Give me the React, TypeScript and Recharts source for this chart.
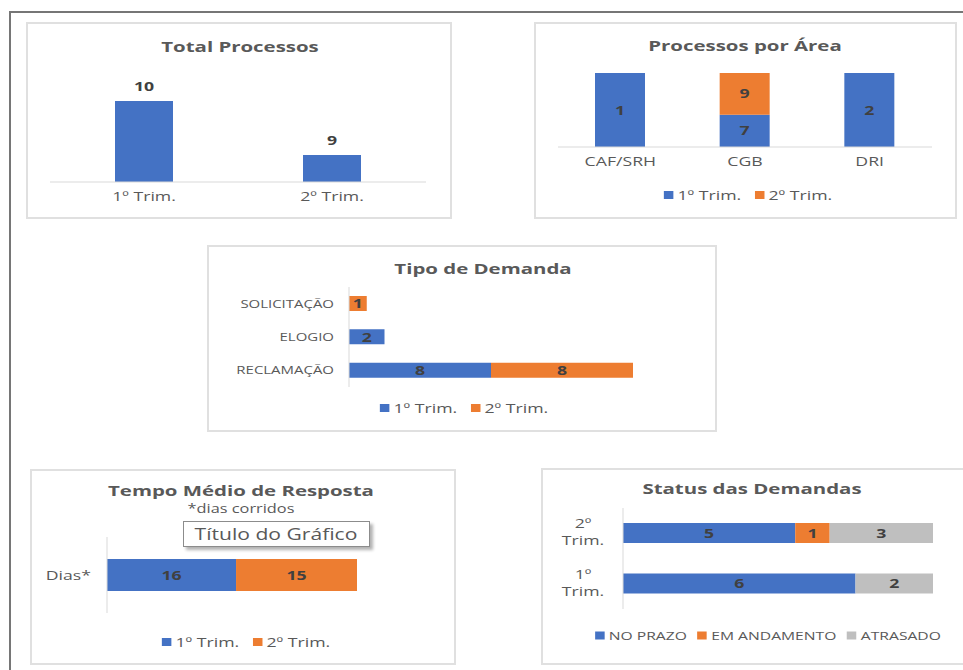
import React from "react";
import { Bar, BarChart, LabelList, XAxis, YAxis } from "recharts";

const BLUE = "#4472c4";
const ORANGE = "#ed7d31";
const GRAY = "#bfbfbf";
const TEXT = "#595959";
const LABEL = "#404040";
const FONT = "'Open Sans', 'Noto Sans', sans-serif";
// the source screenshot is stretched sideways, so text is widened to match
const S = 1.36;

// Total Processos
const totalCategories = ["1º Trim.", "2º Trim."];
const totalValues = [10, 9];

// Processos por Área
const areaCategories = ["CAF/SRH", "CGB", "DRI"];
const areaTrim1 = [1, 7, 2];
const areaTrim2 = [null, 9, null];

// Tipo de Demanda (top to bottom)
const demandCategories = ["SOLICITAÇÃO", "ELOGIO", "RECLAMAÇÃO"];
const demandTrim1 = [null, 2, 8];
const demandTrim2 = [1, null, 8];

// Tempo Médio de Resposta
const tempoCategories = ["Dias*"];
const tempoTrim1 = [16];
const tempoTrim2 = [15];

// Status das Demandas (top to bottom)
const statusCategories = ["2º Trim.", "1º Trim."];
const statusNoPrazo = [5, 6];
const statusAndamento = [1, null];
const statusAtrasado = [3, 2];

const trimLegend = ["1º Trim.", "2º Trim."];
const statusLegend = ["NO PRAZO", "EM ANDAMENTO", "ATRASADO"];

const totalData = totalCategories.map((name, i) => ({ name, v: totalValues[i] }));
const areaData = areaCategories.map((name, i) => ({ name, t1: areaTrim1[i], t2: areaTrim2[i] }));
const demandData = demandCategories.map((name, i) => ({ name, t1: demandTrim1[i], t2: demandTrim2[i] }));
const tempoData = tempoCategories.map((name, i) => ({ name, t1: tempoTrim1[i], t2: tempoTrim2[i] }));
const statusData = statusCategories.map((name, i) => ({
  name,
  a: statusNoPrazo[i],
  b: statusAndamento[i],
  c: statusAtrasado[i],
}));

function Panel({ x, y, w, h }: { x: number; y: number; w: number; h: number }) {
  return (
    <div
      style={{
        position: "absolute",
        left: x,
        top: y,
        width: w,
        height: h,
        border: "2px solid #e0e0e0",
        boxSizing: "border-box",
      }}
    />
  );
}

function Txt({ cx, cy, size, bold, children, style }: any) {
  return (
    <div
      style={{
        position: "absolute",
        left: cx,
        top: cy,
        transform: `translate(-50%, -50%) scaleX(${S})`,
        whiteSpace: "nowrap",
        fontSize: size,
        fontWeight: bold ? 700 : 400,
        color: TEXT,
        ...style,
      }}
    >
      {children}
    </div>
  );
}

function LegendRow({ cx, cy, items, colors, size = 13, gap = 10 }: any) {
  return (
    <Txt cx={cx} cy={cy} size={size}>
      <div style={{ display: "flex", alignItems: "center", gap }}>
        {items.map((it: string, i: number) => (
          <div key={it} style={{ display: "flex", alignItems: "center", gap: 3 }}>
            <span style={{ width: 7, height: 8, background: colors[i], display: "inline-block" }} />
            <span>{it}</span>
          </div>
        ))}
      </div>
    </Txt>
  );
}

function STxt({ x, y, anchor, size, bold, fill, dy, children }: any) {
  return (
    <g transform={`translate(${x},${y}) scale(${S},1)`}>
      <text
        x={0}
        y={0}
        dy={dy}
        textAnchor={anchor}
        fill={fill}
        fontSize={size}
        fontWeight={bold ? 700 : 400}
        fontFamily={FONT}
      >
        {children}
      </text>
    </g>
  );
}

function BottomTick({ x, y, payload }: any) {
  return (
    <STxt x={x} y={y} anchor="middle" size={13} fill={TEXT} dy="0.71em">
      {payload.value}
    </STxt>
  );
}

function LeftTick({ x, y, payload, size }: any) {
  return (
    <STxt x={x} y={y} anchor="end" size={size} fill={TEXT} dy="0.36em">
      {payload.value}
    </STxt>
  );
}

function StatusTick({ x, y, payload }: any) {
  const [a, b] = String(payload.value).split(" ");
  const cx = x - 32;
  return (
    <g>
      <STxt x={cx} y={y - 5} anchor="middle" size={13} fill={TEXT}>{a}</STxt>
      <STxt x={cx} y={y + 12} anchor="middle" size={13} fill={TEXT}>{b}</STxt>
    </g>
  );
}

function renderLabel(pos: "center" | "top", size = 13) {
  return (props: any) => {
    const { value } = props;
    if (value === null || value === undefined) return null;
    const vb = props.viewBox || props;
    const cx = vb.x + vb.width / 2;
    const cy = pos === "center" ? vb.y + vb.height / 2 : vb.y - 15;
    return (
      <STxt x={cx} y={cy} anchor="middle" size={size} bold fill={LABEL} dy="0.36em">
        {value}
      </STxt>
    );
  };
}

function Box({ x, y, children }: any) {
  return <div style={{ position: "absolute", left: x, top: y }}>{children}</div>;
}

export default function App() {
  return (
    <div
      style={{
        position: "absolute",
        left: 0,
        top: 0,
        width: 963,
        height: 670,
        overflow: "hidden",
        background: "#fff",
        fontFamily: FONT,
      }}
    >
      <div
        style={{
          position: "absolute",
          left: 9,
          top: 11,
          width: 980,
          height: 700,
          borderLeft: "2px solid #767676",
          borderTop: "2px solid #767676",
        }}
      />

      {/* Total Processos */}
      <Panel x={26} y={22} w={426} h={197} />
      <Txt cx={240} cy={46} size={15} bold>Total Processos</Txt>
      <Box x={26} y={22}>
        <BarChart width={426} height={197} data={totalData} margin={{ top: 52, right: 26, bottom: 7, left: 24 }}>
          <XAxis
            dataKey="name"
            height={30}
            tickLine={false}
            axisLine={{ stroke: "#d9d9d9" }}
            tick={<BottomTick />}
            tickMargin={4}
          />
          <YAxis hide domain={[8.5, 10.5]} />
          <Bar dataKey="v" fill={BLUE} barSize={58} isAnimationActive={false}>
            <LabelList dataKey="v" content={renderLabel("top")} />
          </Bar>
        </BarChart>
      </Box>

      {/* Processos por Área */}
      <Panel x={534} y={22} w={423} h={197} />
      <Txt cx={745} cy={45} size={15} bold>Processos por Área</Txt>
      <Box x={534} y={22}>
        <BarChart
          width={423}
          height={197}
          data={areaData}
          stackOffset="expand"
          margin={{ top: 51, right: 25, bottom: 42, left: 24 }}
        >
          <XAxis
            dataKey="name"
            height={30}
            tickLine={false}
            axisLine={{ stroke: "#d9d9d9" }}
            tick={<BottomTick />}
            tickMargin={4}
          />
          <YAxis hide domain={[0, 1]} />
          <Bar dataKey="t1" stackId="s" fill={BLUE} barSize={50} isAnimationActive={false}>
            <LabelList dataKey="t1" content={renderLabel("center")} />
          </Bar>
          <Bar dataKey="t2" stackId="s" fill={ORANGE} barSize={50} isAnimationActive={false}>
            <LabelList dataKey="t2" content={renderLabel("center")} />
          </Bar>
        </BarChart>
      </Box>
      <LegendRow cx={748} cy={195} items={trimLegend} colors={[BLUE, ORANGE]} />

      {/* Tipo de Demanda */}
      <Panel x={207} y={245} w={510} h={187} />
      <Txt cx={483} cy={268} size={15} bold>Tipo de Demanda</Txt>
      <Box x={207} y={245}>
        <BarChart
          width={510}
          height={187}
          data={demandData}
          layout="vertical"
          margin={{ top: 42, right: 84, bottom: 45, left: 12 }}
        >
          <XAxis type="number" hide domain={[0, 16]} />
          <YAxis
            type="category"
            dataKey="name"
            width={130}
            tickLine={false}
            axisLine={{ stroke: "#d9d9d9" }}
            tick={<LeftTick size={11} />}
            tickMargin={9}
          />
          <Bar dataKey="t1" stackId="s" fill={BLUE} barSize={15} isAnimationActive={false}>
            <LabelList dataKey="t1" content={renderLabel("center")} />
          </Bar>
          <Bar dataKey="t2" stackId="s" fill={ORANGE} barSize={15} isAnimationActive={false}>
            <LabelList dataKey="t2" content={renderLabel("center")} />
          </Bar>
        </BarChart>
      </Box>
      <LegendRow cx={464} cy={408} items={trimLegend} colors={[BLUE, ORANGE]} />

      {/* Tempo Médio de Resposta */}
      <Panel x={30} y={469} w={426} h={196} />
      <Txt cx={241} cy={490} size={15} bold>Tempo Médio de Resposta</Txt>
      <Txt cx={241} cy={508} size={12}>*dias corridos</Txt>
      <Box x={30} y={469}>
        <BarChart
          width={426}
          height={196}
          data={tempoData}
          layout="vertical"
          margin={{ top: 68, right: 99, bottom: 52, left: 7 }}
        >
          <XAxis type="number" hide domain={[0, 31]} />
          <YAxis
            type="category"
            dataKey="name"
            width={70}
            tickLine={false}
            axisLine={{ stroke: "#d9d9d9" }}
            tick={<LeftTick size={13} />}
            tickMargin={10}
          />
          <Bar dataKey="t1" stackId="s" fill={BLUE} barSize={32} isAnimationActive={false}>
            <LabelList dataKey="t1" content={renderLabel("center")} />
          </Bar>
          <Bar dataKey="t2" stackId="s" fill={ORANGE} barSize={32} isAnimationActive={false}>
            <LabelList dataKey="t2" content={renderLabel("center")} />
          </Bar>
        </BarChart>
      </Box>
      <div
        style={{
          position: "absolute",
          left: 183,
          top: 521,
          width: 187,
          height: 26,
          border: "1px solid #8c8c8c",
          boxSizing: "border-box",
          background: "#fff",
          boxShadow: "3px 3px 3px rgba(0,0,0,0.3)",
        }}
      />
      <Txt cx={276} cy={534} size={15.5}>Título do Gráfico</Txt>
      <LegendRow cx={246} cy={642} items={trimLegend} colors={[BLUE, ORANGE]} />

      {/* Status das Demandas */}
      <Panel x={541} y={468} w={430} h={197} />
      <Txt cx={752} cy={488} size={15} bold>Status das Demandas</Txt>
      <Box x={541} y={468}>
        <BarChart
          width={424}
          height={197}
          data={statusData}
          layout="vertical"
          stackOffset="expand"
          margin={{ top: 40, right: 32, bottom: 56, left: 12 }}
        >
          <XAxis type="number" hide domain={[0, 1]} />
          <YAxis
            type="category"
            dataKey="name"
            width={70}
            tickLine={false}
            axisLine={{ stroke: "#d9d9d9" }}
            tick={<StatusTick />}
          />
          <Bar dataKey="a" stackId="s" fill={BLUE} barSize={20} isAnimationActive={false}>
            <LabelList dataKey="a" content={renderLabel("center")} />
          </Bar>
          <Bar dataKey="b" stackId="s" fill={ORANGE} barSize={20} isAnimationActive={false}>
            <LabelList dataKey="b" content={renderLabel("center")} />
          </Bar>
          <Bar dataKey="c" stackId="s" fill={GRAY} barSize={20} isAnimationActive={false}>
            <LabelList dataKey="c" content={renderLabel("center")} />
          </Bar>
        </BarChart>
      </Box>
      <LegendRow cx={768} cy={635} items={statusLegend} colors={[BLUE, ORANGE, GRAY]} size={11.5} gap={8} />
    </div>
  );
}
